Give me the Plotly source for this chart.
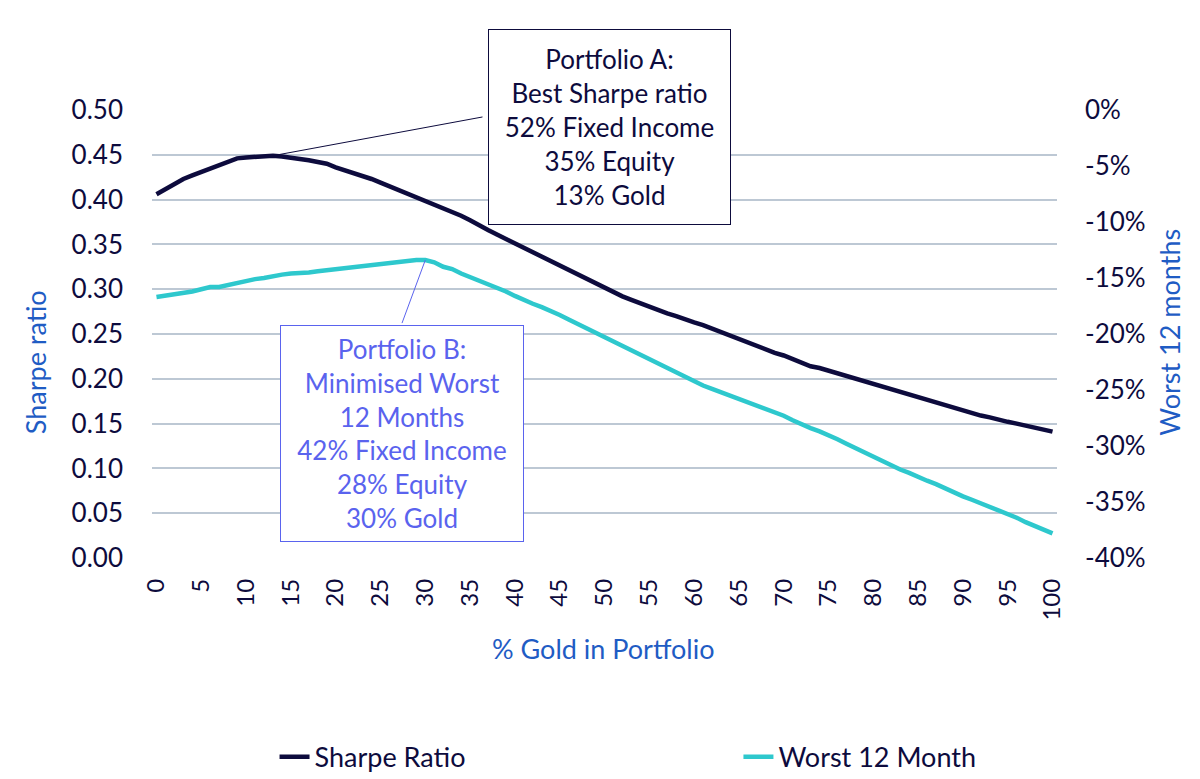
import plotly.graph_objects as go

# % gold in the portfolio (category axis, 0..100)
GOLD_PCT = list(range(0, 101))

# Sharpe ratio (left axis)
SHARPE_RATIO = [
    0.406, 0.412, 0.418, 0.423, 0.427, 0.431, 0.435, 0.439, 0.443, 0.446,
    0.447, 0.448, 0.448, 0.449, 0.448, 0.447, 0.446, 0.444, 0.442, 0.440,
    0.436, 0.433, 0.430, 0.426, 0.423, 0.419, 0.415, 0.411, 0.407, 0.403,
    0.399, 0.395, 0.391, 0.387, 0.382, 0.377, 0.371, 0.366, 0.361, 0.356,
    0.351, 0.346, 0.341, 0.336, 0.331, 0.326, 0.321, 0.316, 0.311, 0.306,
    0.301, 0.297, 0.292, 0.288, 0.284, 0.280, 0.276, 0.273, 0.270, 0.266,
    0.263, 0.260, 0.256, 0.252, 0.248, 0.244, 0.240, 0.236, 0.233, 0.229,
    0.226, 0.222, 0.218, 0.214, 0.212, 0.209, 0.207, 0.204, 0.201, 0.198,
    0.195, 0.192, 0.189, 0.186, 0.183, 0.180, 0.177, 0.174, 0.171, 0.168,
    0.165, 0.162, 0.159, 0.157, 0.154, 0.152, 0.150, 0.148, 0.146, 0.143,
    0.141,
]

# Worst 12 month return in % (right axis)
WORST_12M = [
    -16.7, -16.6, -16.5, -16.3, -16.2, -16.0, -15.8, -15.8, -15.6, -15.4,
    -15.3, -15.1, -15.0, -14.8, -14.7, -14.6, -14.6, -14.5, -14.4, -14.3,
    -14.2, -14.2, -14.1, -14.0, -13.8, -13.8, -13.7, -13.6, -13.5, -13.4,
    -13.4, -13.6, -14.0, -14.2, -14.6, -14.9, -15.3, -15.6, -15.9, -16.2,
    -16.6, -17.0, -17.3, -17.6, -17.9, -18.3, -18.7, -19.1, -19.5, -19.9,
    -20.3, -20.7, -21.1, -21.5, -21.9, -22.3, -22.7, -23.1, -23.5, -23.9,
    -24.2, -24.6, -24.9, -25.2, -25.5, -25.8, -26.1, -26.4, -26.6, -26.9,
    -27.3, -27.7, -28.1, -28.4, -28.7, -29.0, -29.4, -29.8, -30.2, -30.6,
    -31.0, -31.4, -31.7, -32.1, -32.4, -32.8, -33.1, -33.4, -33.8, -34.2,
    -34.5, -34.8, -35.1, -35.4, -35.8, -36.1, -36.4, -36.8, -37.1, -37.4,
    -37.8,
]

X_TICKS = list(range(0, 101, 5))
Y_TICKS = [0.0, 0.05, 0.10, 0.15, 0.20, 0.25, 0.30, 0.35, 0.40, 0.45, 0.50]
Y2_TICKS = [0, -5, -10, -15, -20, -25, -30, -35, -40]
Y2_LABELS = ["0%", "-5%", "-10%", "-15%", "-20%", "-25%", "-30%", "-35%", "-40%"]

NAVY = "#0d0b3d"
TEAL = "#2ec8cd"
BLUE = "#1f5cc4"
VIOLET = "#5a63ee"
GRID = "#bdc8d4"
FONT = "Lato"

fig = go.Figure()
fig.add_trace(go.Scatter(
    x=GOLD_PCT, y=SHARPE_RATIO, name="Sharpe Ratio", mode="lines",
    line=dict(color=NAVY, width=4.5), legend="legend",
))
fig.add_trace(go.Scatter(
    x=GOLD_PCT, y=WORST_12M, name="Worst 12 Month", mode="lines", yaxis="y2",
    line=dict(color=TEAL, width=4.5), legend="legend2",
))

# text boxes
fig.add_annotation(
    xref="paper", yref="paper", x=0.5055, y=0.962, xanchor="center", yanchor="middle",
    text="Portfolio A:<br>Best Sharpe ratio<br>52% Fixed Income<br>35% Equity<br>13% Gold",
    showarrow=False, align="center", width=241, height=194, borderpad=0,
    bordercolor=NAVY, borderwidth=1, bgcolor="white",
    font=dict(family=FONT, size=26, color=NAVY),
)
fig.add_annotation(
    xref="paper", yref="paper", x=0.2762, y=0.277, xanchor="center", yanchor="middle",
    text="Portfolio B:<br>Minimised Worst<br>12 Months<br>42% Fixed Income<br>28% Equity<br>30% Gold",
    showarrow=False, align="center", width=242, height=215, borderpad=0,
    bordercolor=VIOLET, borderwidth=1, bgcolor="white",
    font=dict(family=FONT, size=26, color=VIOLET),
)

# leader lines from the chosen portfolios to the boxes
fig.add_annotation(
    x=GOLD_PCT[13], y=SHARPE_RATIO[13], xref="x", yref="y", text=" ",
    showarrow=True, arrowhead=0, arrowwidth=1, arrowcolor=NAVY, ax=211, ay=-39,
    font=dict(size=1),
)
fig.add_annotation(
    x=GOLD_PCT[30], y=WORST_12M[30], xref="x", yref="y2", text=" ",
    showarrow=True, arrowhead=0, arrowwidth=1, arrowcolor=VIOLET, ax=-24, ay=65,
    font=dict(size=1),
)

# axis titles
title_font = dict(family=FONT, size=27, color=BLUE)
fig.add_annotation(xref="paper", yref="paper", x=-0.1293, y=0.437, text="Sharpe ratio",
                   xanchor="center", yanchor="middle", textangle=-90,
                   showarrow=False, font=title_font)
fig.add_annotation(xref="paper", yref="paper", x=1.1249, y=0.503, text="Worst 12 months",
                   xanchor="center", yanchor="middle", textangle=-90,
                   showarrow=False, font=title_font)
fig.add_annotation(xref="paper", yref="paper", x=0.4994, y=-0.2017, text="% Gold in Portfolio",
                   xanchor="center", yanchor="middle", showarrow=False, font=title_font)

legend_style = dict(
    orientation="h", yanchor="middle", xanchor="left", y=-0.4445,
    font=dict(family=FONT, size=27, color=NAVY), bgcolor="rgba(0,0,0,0)",
)

fig.update_layout(
    template="none",
    width=1200, height=779,
    margin=dict(l=152, r=143, t=110, b=221, autoexpand=False),
    paper_bgcolor="white", plot_bgcolor="white",
    font=dict(family=FONT, color=NAVY, size=24),
    showlegend=True,
    legend=dict(x=0.1354, **legend_style),
    legend2=dict(x=0.648, **legend_style),
    xaxis=dict(
        range=[-0.5, 100.5], tickvals=X_TICKS, tickangle=-90,
        showgrid=False, zeroline=False, showline=False, ticks="",
        ticklabelstandoff=15, automargin=False,
        tickfont=dict(family=FONT, size=24, color=NAVY),
    ),
    yaxis=dict(
        range=[0, 0.5], tickvals=Y_TICKS, tickformat=".2f",
        showgrid=True, gridcolor=GRID, gridwidth=1.5, zeroline=False,
        showline=False, ticks="", ticklabelstandoff=28, automargin=False,
        tickfont=dict(family=FONT, size=26, color=NAVY),
    ),
    yaxis2=dict(
        range=[-40, 0], tickvals=Y2_TICKS, ticktext=Y2_LABELS,
        overlaying="y", side="right", showgrid=False, zeroline=False,
        showline=False, ticks="", ticklabelstandoff=27, automargin=False,
        tickfont=dict(family=FONT, size=26, color=NAVY),
    ),
)

fig.write_html(
    "out.html",
    config={"displayModeBar": False},
    post_script="document.body.style.margin='0px';",
)
